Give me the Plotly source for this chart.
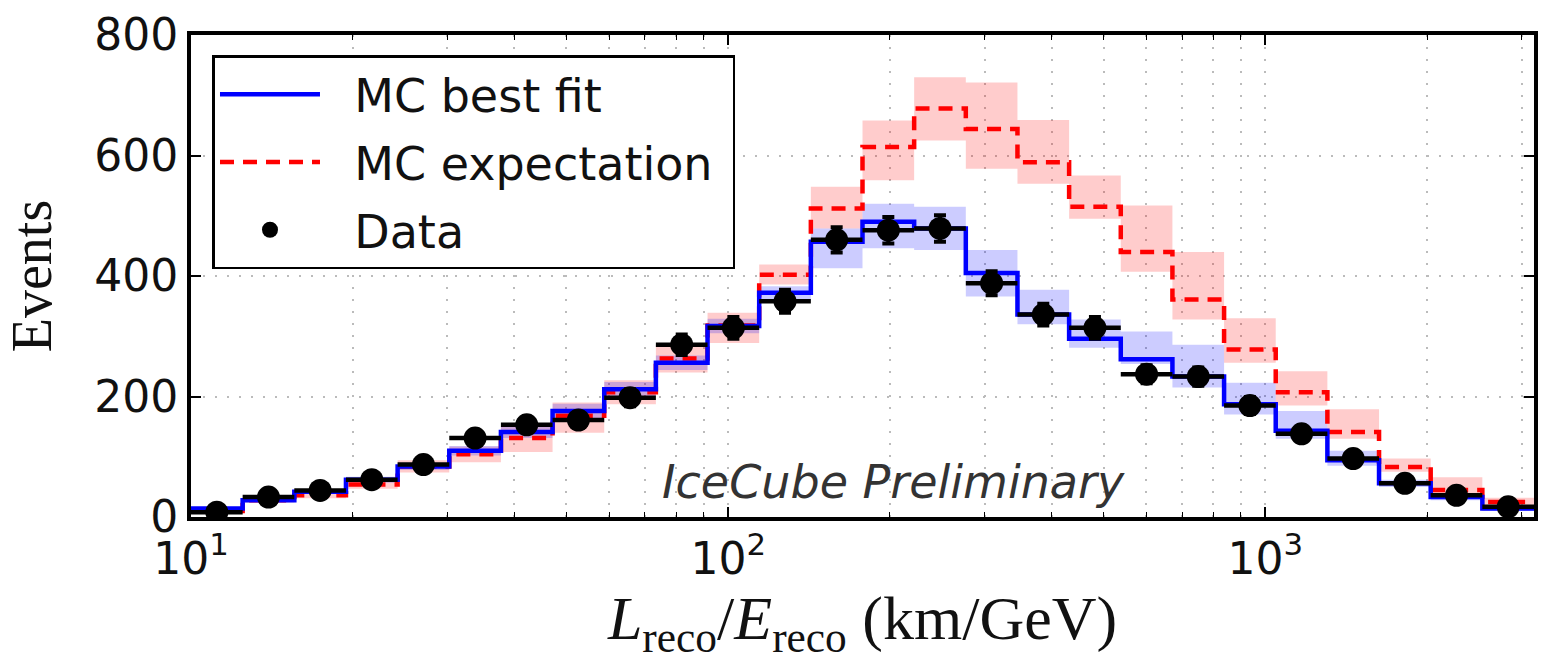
import numpy as np
import plotly.graph_objects as go

# 26 logarithmic bins between 10 and 10^3.5 km/GeV
bin_edges = np.logspace(1, 3.5, 27)

data_counts = [8, 33, 44, 62, 87, 131, 153, 161, 198, 286, 314, 358, 460,
               476, 479, 388, 336, 314, 237, 233, 185, 138, 97, 56, 36, 17]
data_err = [3, 6, 7, 8, 9, 11, 12, 13, 14, 17, 18, 19, 21,
            22, 22, 20, 18, 18, 15, 15, 14, 12, 10, 7, 6, 4]

mc_best_fit = [14, 28, 42, 62, 84, 110, 141, 176, 212, 256, 317, 372, 457,
               490, 479, 405, 336, 296, 262, 233, 187, 143, 94, 56, 33, 14]
best_fit_low = [12, 25, 38, 57, 78, 102, 131, 164, 200, 244, 305, 358, 413,
                446, 443, 366, 320, 281, 254, 215, 170, 130, 85, 50, 28, 10]
best_fit_high = [16, 31, 46, 67, 90, 118, 151, 188, 224, 268, 329, 383, 479,
                 520, 515, 443, 377, 328, 308, 286, 223, 176, 110, 62, 38, 18]

mc_expectation = [10, 28, 36, 54, 84, 104, 131, 168, 207, 263, 318, 402, 512,
                  614, 678, 644, 589, 515, 440, 361, 278, 207, 141, 83, 45, 25]
expect_low = [8, 24, 31, 47, 74, 91, 108, 140, 187, 240, 289, 386, 479,
              559, 625, 578, 553, 495, 407, 328, 256, 185, 130, 75, 39, 18]
expect_high = [12, 32, 41, 61, 94, 117, 150, 190, 227, 286, 339, 419, 548,
               658, 730, 721, 659, 567, 517, 440, 330, 242, 179, 97, 66, 32]

x_tick_vals = [10, 100, 1000]
x_tick_text = ["10<sup>1</sup>", "10<sup>2</sup>", "10<sup>3</sup>"]
x_minor_vals = [20, 30, 40, 50, 60, 70, 80, 90,
                200, 300, 400, 500, 600, 700, 800, 900, 2000, 3000]
y_tick_vals = [0, 200, 400, 600, 800]

edges = list(bin_edges)
centers = np.sqrt(bin_edges[:-1] * bin_edges[1:])


def step(vals):
    return list(vals) + [vals[-1]]


fig = go.Figure()

# uncertainty bands
for low, high, col in [(expect_low, expect_high, "rgba(255,0,0,0.2)"),
                       (best_fit_low, best_fit_high, "rgba(0,0,255,0.2)")]:
    fig.add_trace(go.Scatter(x=edges, y=step(low), mode="lines", line_shape="hv",
                             line=dict(width=0), showlegend=False, hoverinfo="skip"))
    fig.add_trace(go.Scatter(x=edges, y=step(high), mode="lines", line_shape="hv",
                             line=dict(width=0), fill="tonexty", fillcolor=col,
                             showlegend=False, hoverinfo="skip"))

pad = "&nbsp;&nbsp;"
fig.add_trace(go.Scatter(x=edges, y=step(mc_expectation), mode="lines", line_shape="hv",
                         line=dict(color="#ff0000", width=4.5, dash="14px,9px"),
                         name=pad + "MC expectation&nbsp;", legendgroup="b", legendrank=2))
fig.add_trace(go.Scatter(x=edges, y=step(mc_best_fit), mode="lines", line_shape="hv",
                         line=dict(color="#0000ff", width=4.5),
                         name=pad + "MC best fit", legendgroup="a", legendrank=1))

xerr_plus = list(bin_edges[1:] - centers)
xerr_minus = list(centers - bin_edges[:-1])
fig.add_trace(go.Scatter(
    x=list(centers), y=data_counts, mode="markers",
    marker=dict(color="black", size=23, symbol="circle"),
    error_y=dict(type="data", array=data_err, color="black", thickness=4, width=6),
    error_x=dict(type="data", symmetric=False, array=xerr_plus, arrayminus=xerr_minus,
                 color="black", thickness=4.5, width=0),
    name=pad + "Data", legendgroup="c", legendrank=3))

fig.add_annotation(x=0.523, y=0.072, xref="paper", yref="paper", xanchor="center",
                   yanchor="middle", showarrow=False, text="<i>IceCube Preliminary</i>",
                   font=dict(family="DejaVu Sans", size=46, color="#333333"))

axis_common = dict(showline=True, linecolor="black", linewidth=4, mirror="allticks",
                   ticks="inside", tickcolor="black", tickwidth=1.5,
                   tickfont=dict(family="DejaVu Sans", size=44, color="#111111"),
                   zeroline=False, showgrid=True, gridcolor="#bbbbbb", gridwidth=1.5,
                   griddash="2px,10px")

fig.update_xaxes(type="log", range=[1, 3.5], tickvals=x_tick_vals, ticktext=x_tick_text,
                 ticklen=10,
                 minor=dict(tickvals=x_minor_vals, ticks="inside", ticklen=5,
                            tickcolor="black", tickwidth=1.2, showgrid=True,
                            gridcolor="#bbbbbb", gridwidth=1.5, griddash="2px,10px"),
                 title=dict(text="<i>L</i><sub>reco</sub>/<i>E</i><sub>reco</sub> (km/GeV)",
                            font=dict(family="Liberation Serif", size=62, color="#111111"),
                            standoff=10),
                 **axis_common)
fig.update_yaxes(range=[0, 800], tickvals=y_tick_vals, ticklen=10,
                 title=dict(text="Events",
                            font=dict(family="Liberation Serif", size=56, color="#111111"),
                            standoff=26),
                 **axis_common)

fig.update_layout(
    width=1547, height=662,
    margin=dict(l=191, r=9, t=32, b=145),
    paper_bgcolor="white", plot_bgcolor="white",
    showlegend=True,
    legend=dict(x=0.016, y=0.958, xanchor="left", yanchor="top",
                bgcolor="white", bordercolor="black", borderwidth=2.5,
                font=dict(family="DejaVu Sans", size=46, color="#111111"),
                itemwidth=100, tracegroupgap=5, traceorder="grouped"),
)

fig.write_html("out.html")
